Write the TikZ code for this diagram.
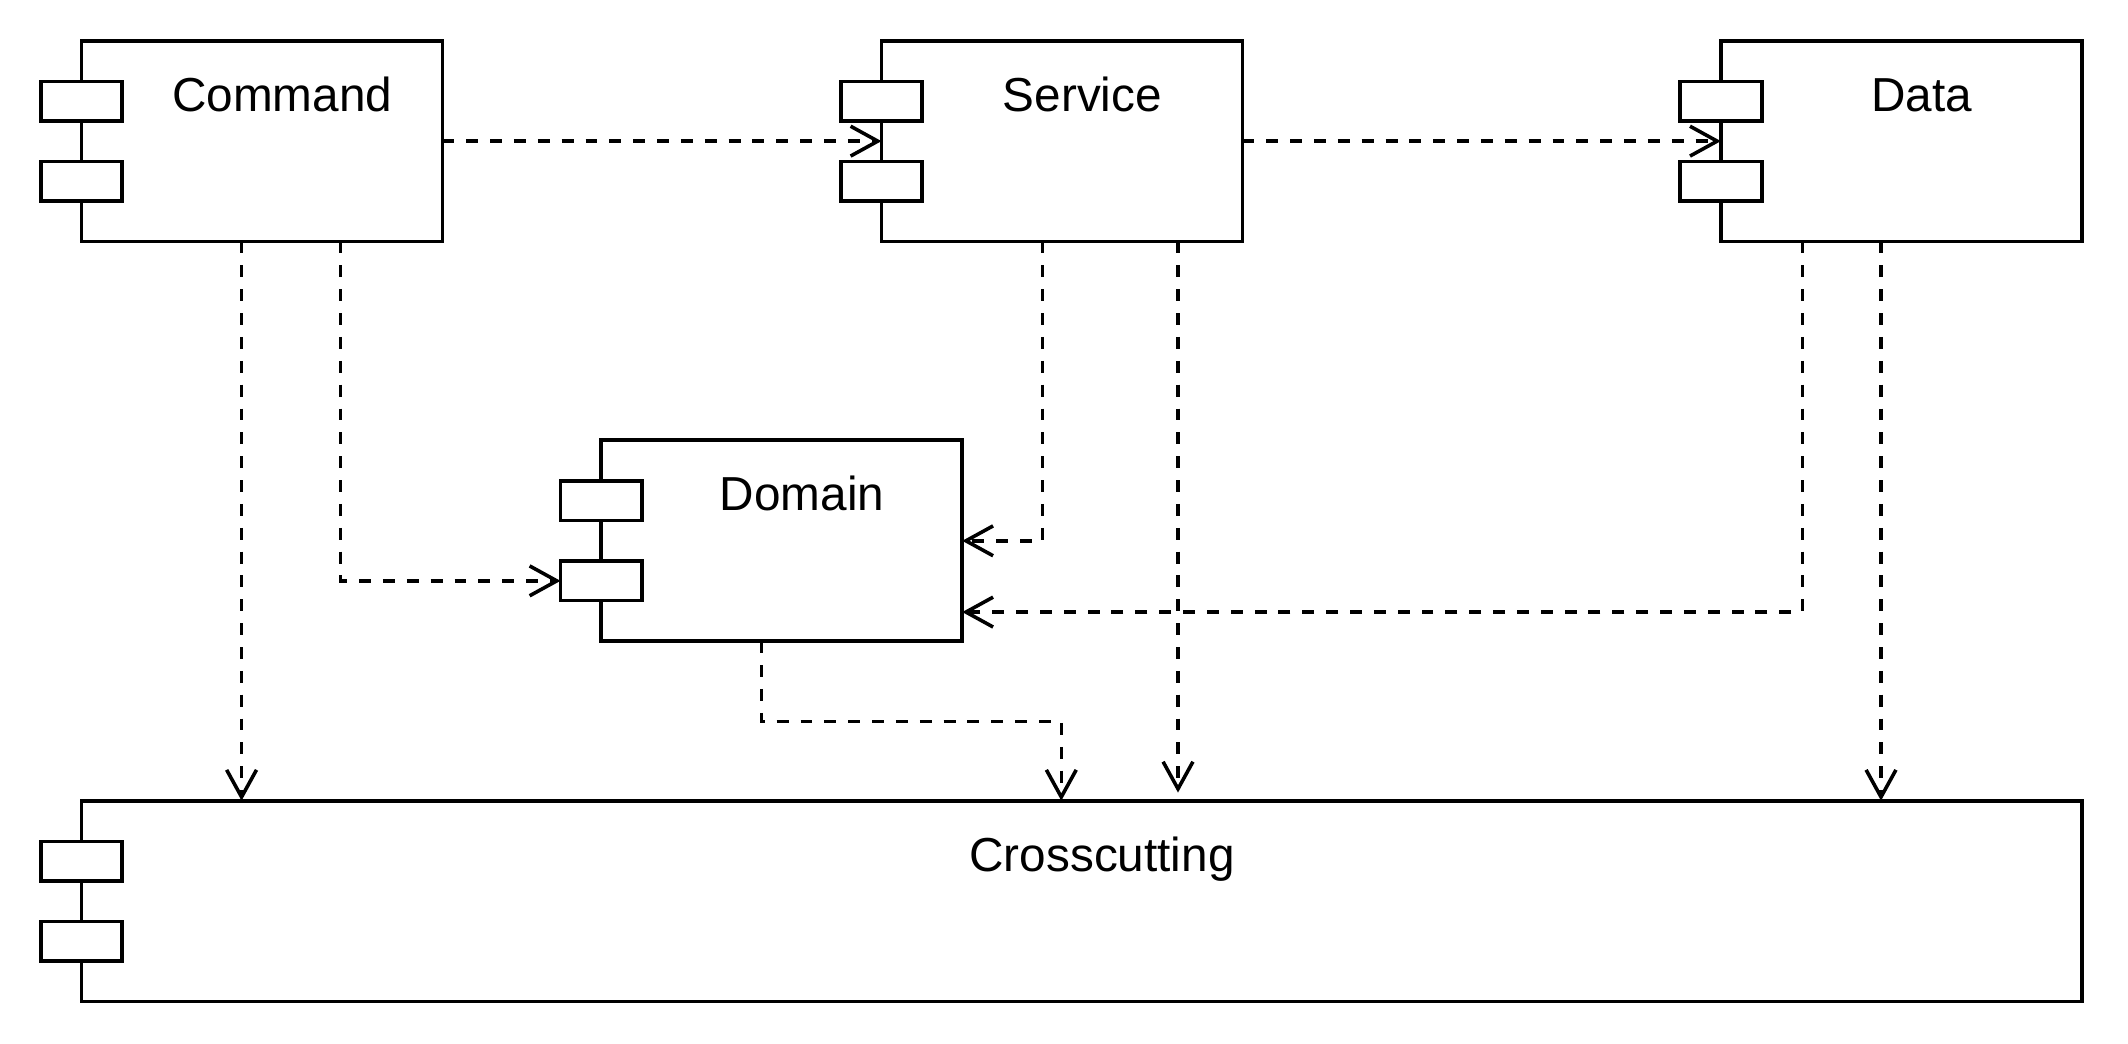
\documentclass[tikz,border=0pt]{standalone}
\usepackage{fontspec}
\setmainfont{Liberation Sans}
\usetikzlibrary{
  arrows.meta,
  positioning,
  calc
}
\tikzset{
  comp/.style={
    draw, line width=1.6pt, fill=white, outer sep=0pt, inner sep=0pt,
    minimum width=53.2mm, minimum height=29.6mm
  },
  port/.style={
    draw, line width=1.6pt, fill=white, outer sep=0pt, inner sep=0pt,
    minimum width=12mm, minimum height=5.8mm
  },
  comptext/.style={anchor=base, inner sep=0pt, font=\fontsize{20}{24}\selectfont},
  dep/.style={
    line width=1.5pt, dash pattern=on 5pt off 5pt,
    -{Straight Barb[length=4mm, width=4.4mm]}
  }
}

\begin{document}
\begin{tikzpicture}[x=0.2mm, y=-0.2mm]
  \useasboundingbox (0,0) rectangle (1568,769);

  % components
  \node[comp] (cmd) at (193,104) {};
  \node[comp] (svc) at (782.5,104) {};
  \node[comp] (dat) at (1401,104) {};
  \node[comp] (dom) at (576,398.5) {};
  \node[comp, minimum width=294.8mm] (xcut) at (797,664) {};

  % the two little port boxes on the left side
  \foreach \n in {cmd,svc,dat,dom,xcut}{
    \node[port] (\n-p1) at ([yshift=-8.9mm]\n.north west) {};
    \node[port] (\n-p2) at ([yshift=-20.7mm]\n.north west) {};
  }

  \foreach \n/\t in {cmd/Command, svc/Service, dat/Data, dom/Domain, xcut/Crosscutting}
    \node[comptext] (\n-t) at ([xshift=3mm, yshift=-10.4mm]\n.north) {\t};

  % where the dependencies leave the boxes
  \coordinate (cmd-s1) at ([xshift=-3mm]cmd.south);
  \coordinate (cmd-s2) at ([xshift=11.6mm]cmd.south);
  \coordinate (svc-s1) at ([xshift=-2.9mm]svc.south);
  \coordinate (svc-s2) at ([xshift=17.1mm]svc.south);
  \coordinate (dat-s1) at ([xshift=-14.6mm]dat.south);
  \coordinate (dat-s2) at ([xshift=-3mm]dat.south);
  \coordinate (dom-s1) at ([xshift=-3mm]dom.south);

  % dependencies
  \draw[dep] (cmd.east) -- (svc.west);
  \draw[dep] (svc.east) -- (dat.west);
  \draw[dep] (cmd-s1) -- (cmd-s1 |- xcut.north);
  \draw[dep] (cmd-s2) |- (dom-p2.west);
  \draw[dep] (svc-s1) |- (dom.east);
  \draw[dep, shorten >=1.2mm] (svc-s2) -- (svc-s2 |- xcut.north);
  \draw[dep] (dat-s1) |- ([yshift=-10.5mm]dom.east);
  \draw[dep] (dat-s2) -- (dat-s2 |- xcut.north);
  \draw[dep] (dom-s1) -- ++(0mm,-11.8mm) -| ([xshift=-3mm]xcut.north);
\end{tikzpicture}
\end{document}
